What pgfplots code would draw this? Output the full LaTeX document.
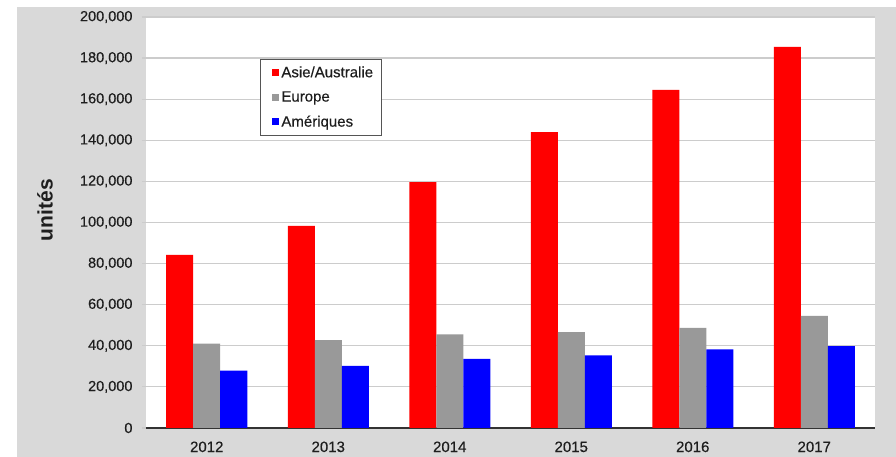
\documentclass[border=0pt]{standalone}
\usepackage{fontspec}
\setmainfont{Liberation Sans}
\newfontfamily\semib[FakeBold=0.35]{Liberation Sans}
\usepackage{pgfplots}
\pgfplotsset{compat=1.18}
\definecolor{bg}{HTML}{D9D9D9}
\definecolor{gridc}{HTML}{CCCCCC}
\definecolor{barred}{HTML}{FF0000}
\definecolor{bargray}{HTML}{999999}
\definecolor{barblue}{HTML}{0000FF}
\definecolor{txt}{HTML}{1E1E1E}
\definecolor{legborder}{HTML}{555555}
\begin{document}
\begin{tikzpicture}
\path[use as bounding box, fill=white] (-146pt,-29pt) rectangle (750pt,428pt);
\fill[bg] (-129pt,-29pt) rectangle (750pt,421pt);
\begin{axis}[
  at={(0pt,0pt)}, anchor=south west,
  scale only axis, width=729pt, height=411pt,
  ybar=0pt, bar width=27pt,
  xmin=-0.5, xmax=5.5, ymin=0, ymax=200000,
  xtick=data, xticklabels={2012,2013,2014,2015,2016,2017},
  ytick={0,20000,40000,60000,80000,100000,120000,140000,160000,180000,200000},
  yticklabels={0,{20,000},{40,000},{60,000},{80,000},{100,000},{120,000},{140,000},{160,000},{180,000},{200,000}},
  scaled y ticks=false,
  axis background/.style={fill=white},
  axis x line=bottom, axis y line=left,
  axis line style={-},
  x axis line style={draw=black!80, line width=1.5pt},
  y axis line style={draw=none},
  ymajorgrids, grid style={gridc, line width=1.2pt},
  xtick style={draw=none},
  ytick style={gridc, line width=1.2pt},
  tick align=outside, major tick length=4pt,
  yticklabel style={font=\semib\fontsize{14.5}{17}\selectfont, text=txt, xshift=-6pt},
  xticklabel style={font=\semib\fontsize{15}{18}\selectfont, text=txt, yshift=-6pt},
  ylabel={unités},
  ylabel style={font=\fontsize{21}{24}\selectfont\bfseries, text=txt, at={(axis description cs:-0.1385,0.53)}, anchor=center},
  legend style={at={(0.1564,0.8978)}, anchor=north west, draw=legborder, line width=0.8pt, fill=white,
     font=\semib\fontsize{15}{18}\selectfont, text=txt, inner xsep=6pt, inner ysep=5pt, row sep=8.5pt,
     cells={anchor=west}},
  legend image code/.code={\path (-6pt,0pt); \fill[#1] (0pt,-3.5pt) rectangle (7pt,3.5pt);},
]
\addplot[fill=barred, draw=none] coordinates {(0,84200) (1,98300) (2,119700) (3,144000) (4,164500) (5,185400)};
\addplot[fill=bargray, draw=none] coordinates {(0,41000) (1,42800) (2,45600) (3,46700) (4,48700) (5,54600)};
\addplot[fill=barblue, draw=none] coordinates {(0,27900) (1,30200) (2,33600) (3,35400) (4,38300) (5,39800)};
\legend{Asie/Australie, Europe, Amériques}
\end{axis}
\end{tikzpicture}
\end{document}
